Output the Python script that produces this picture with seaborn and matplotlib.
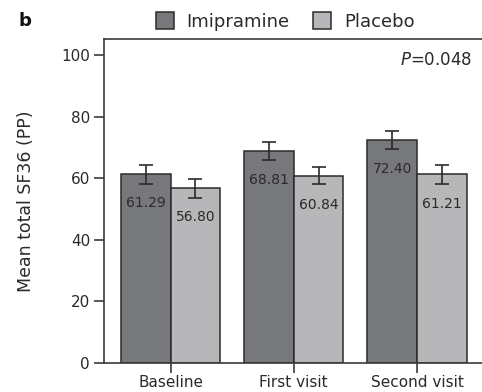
import matplotlib
matplotlib.use("Agg")
import matplotlib.pyplot as plt
import seaborn as sns
import pandas as pd
from matplotlib.patches import Patch

categories = ["Baseline", "First visit", "Second visit"]
groups = ["Imipramine", "Placebo"]
imipramine = [61.29, 68.81, 72.40]
placebo = [56.80, 60.84, 61.21]
imipramine_err = [3.1, 3.0, 3.0]
placebo_err = [3.1, 2.8, 3.1]
yticks = [0, 20, 40, 60, 80, 100]

sns.set_style("ticks")
plt.rcParams["font.family"] = ["DejaVu Sans"]

colors = {"Imipramine": "#77787b", "Placebo": "#b6b7bb"}
edge = "#2b2b2b"
txt = "#2a2a2a"

df = pd.DataFrame({
    "visit": categories * 2,
    "group": ["Imipramine"] * 3 + ["Placebo"] * 3,
    "value": imipramine + placebo,
    "err": imipramine_err + placebo_err,
})

fig = plt.figure(figsize=(4.82, 3.92), dpi=100)
ax = fig.add_axes([104 / 482, 29 / 392, 382 / 482, 324 / 392])
sns.barplot(data=df, x="visit", y="value", hue="group", order=categories,
            hue_order=groups, palette=colors, errorbar=None, width=0.806,
            edgecolor=edge, linewidth=1.1, ax=ax, legend=False)

bars = ax.patches
vals = imipramine + placebo
errs = imipramine_err + placebo_err
for p, v, e in zip(bars, vals, errs):
    cx = p.get_x() + p.get_width() / 2
    ax.errorbar(cx, v, yerr=e, color=edge, capsize=5, capthick=1.2,
                elinewidth=1.2, zorder=5)
    ax.annotate(f"{v:.2f}", (cx, v), xytext=(0, -21), textcoords="offset points",
                ha="center", va="center", fontsize=10, color=txt)

ax.set_xlim(-0.54, 2.56)
ax.set_ylim(0, 105.2)
ax.set_yticks(yticks)
ax.set_xlabel("")
ax.set_ylabel("Mean total SF36 (PP)", fontsize=12.5, color=txt, labelpad=19)
ax.tick_params(axis="y", labelsize=11, length=7, width=1.1, colors=txt, pad=3)
ax.tick_params(axis="x", labelsize=11, length=7, width=1.1, colors=txt, pad=1.5)
for s in ["left", "bottom", "top"]:
    ax.spines[s].set_visible(True)
    ax.spines[s].set_color("#3a3a3a")
    ax.spines[s].set_linewidth(1.2)
ax.spines["right"].set_visible(False)

ax.text(0.965, 0.935, "$P$=0.048", transform=ax.transAxes, ha="right",
        va="center", fontsize=12, color=txt)

handles = [Patch(facecolor=colors[g], edgecolor=edge, linewidth=1.1) for g in groups]
fig.legend(handles, groups, loc="center", bbox_to_anchor=(0.592, 0.945), ncol=2,
           frameon=False, fontsize=13, handlelength=1.0, handleheight=1.0,
           handletextpad=0.7, columnspacing=1.3, labelcolor=txt)
fig.text(18 / 482, 1 - 21 / 392, "b", fontsize=13, fontweight="bold",
         ha="left", va="center", color="#111111")

fig.savefig("out.png", dpi=100)
